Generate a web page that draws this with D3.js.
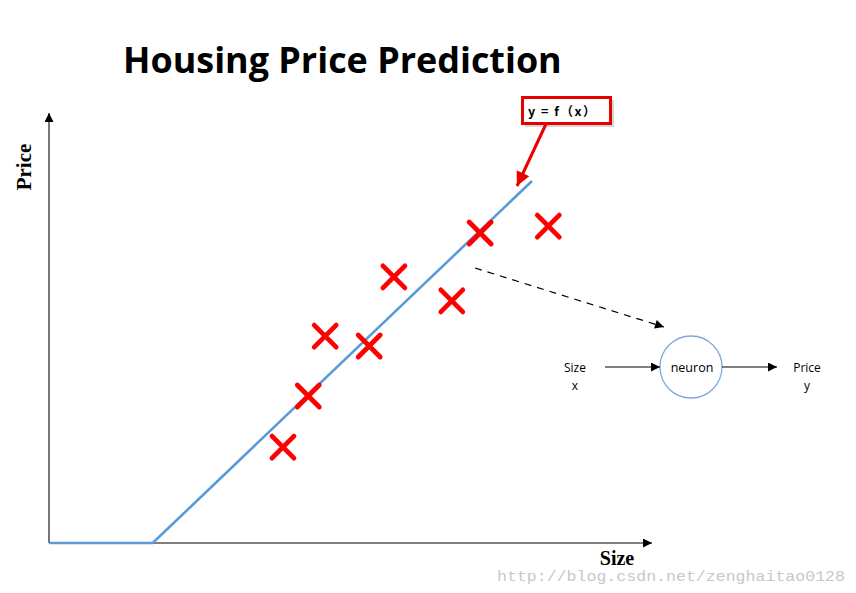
<!DOCTYPE html>
<html><head><meta charset="utf-8">
<script src="https://cdn.jsdelivr.net/npm/d3@7"></script>
<style>body{margin:0;background:#fff}svg{display:block}</style>
</head><body>
<svg id="c" width="856" height="593"></svg>
<script>
const title = "Housing Price Prediction";
const xLabel = "Size";
const yLabel = "Price";
const sizes  = [38.8, 43.0, 45.8, 53.1, 57.2, 66.8, 71.5, 82.8];
const prices = [22.3, 34.2, 48.1, 45.8, 61.9, 56.3, 72.1, 73.7];
const fitX = [0, 17.2, 80.1];
const fitY = [0, 0, 84.2];
const fnLabel = "y = f（x）";
const neuronIn = ["Size", "x"];
const neuronOut = ["Price", "y"];
const watermark = "http://blog.csdn.net/zenghaitao0128";

const svg = d3.select("#c");
const x = d3.scaleLinear().domain([0,100]).range([49,652]);
const y = d3.scaleLinear().domain([0,100]).range([543,113]);

const defs = svg.append("defs");
function marker(id, color, w, h){
  defs.append("marker").attr("id",id).attr("viewBox","0 0 10 10").attr("refX",10).attr("refY",5)
    .attr("markerWidth",w).attr("markerHeight",h).attr("markerUnits","userSpaceOnUse").attr("orient","auto")
    .append("path").attr("d","M0,0L10,5L0,10z").attr("fill",color);
}
marker("ab","#000",14,9);
marker("ar","#e00",16,14);
marker("ad","#000",13,9);

// title
const t = svg.append("text").attr("x",123).attr("y",73).text(title)
  .attr("font-family","'Open Sans', Lato, sans-serif").attr("font-weight","bold").attr("font-size",38).attr("fill","#000");
const tw = t.node().getComputedTextLength();
t.attr("font-size", 38*439/tw);

// axes
svg.append("line").attr("x1",x(0)).attr("y1",y(0)).attr("x2",x(100)).attr("y2",y(0))
  .attr("stroke","#555").attr("stroke-width",1.6).attr("marker-end","url(#ab)");
svg.append("line").attr("x1",x(0)).attr("y1",y(0)).attr("x2",x(0)).attr("y2",y(100))
  .attr("stroke","#555").attr("stroke-width",1.6).attr("marker-end","url(#ab)");

svg.append("text").attr("x",617).attr("y",565).attr("text-anchor","middle").text(xLabel)
  .attr("font-family","'Liberation Serif', serif").attr("font-weight","bold").attr("font-size",20);
svg.append("text").attr("transform","translate(31,167) rotate(-90)").attr("text-anchor","middle").text(yLabel)
  .attr("font-family","'Liberation Serif', serif").attr("font-weight","bold").attr("font-size",21);

// fit line
svg.append("path").datum(fitX.map((d,i)=>[d,fitY[i]]))
  .attr("d", d3.line().x(d=>x(d[0])).y(d=>y(d[1])))
  .attr("fill","none").attr("stroke","#5b9bd5").attr("stroke-width",2.6);

// crosses
const s = 11;
const g = svg.append("g").selectAll("g").data(sizes.map((d,i)=>[d,prices[i]])).join("g")
  .attr("transform", d=>`translate(${x(d[0])},${y(d[1])})`);
g.append("path").attr("d",`M${-s},${-s}L${s},${s}M${-s},${s}L${s},${-s}`)
  .attr("stroke","#ff0000").attr("stroke-width",4.8).attr("stroke-linecap","round").attr("fill","none");

// label box
svg.append("rect").attr("x",525).attr("y",100).attr("width",89).attr("height",27).attr("fill","#bbb").attr("opacity",0.6);
svg.append("rect").attr("x",522.5).attr("y",97.5).attr("width",88).attr("height",26).attr("fill","#fff")
  .attr("stroke","#e60000").attr("stroke-width",3);
svg.append("text").attr("x",528).attr("y",115.5).text(fnLabel)
  .attr("font-family","'Noto Sans CJK SC', sans-serif").attr("font-weight","bold").attr("font-size",12.5)
  .attr("letter-spacing",1.5);
svg.append("line").attr("x1",546).attr("y1",124).attr("x2",517).attr("y2",186)
  .attr("stroke","#e00").attr("stroke-width",3).attr("marker-end","url(#ar)");

// dashed arrow
svg.append("line").attr("x1",475).attr("y1",268).attr("x2",664).attr("y2",327)
  .attr("stroke","#000").attr("stroke-width",1.2).attr("stroke-dasharray","7,6").attr("marker-end","url(#ad)");

// neuron
svg.append("circle").attr("cx",691).attr("cy",367).attr("r",31).attr("fill","#fff").attr("stroke","#7fa9db").attr("stroke-width",1.3);
svg.append("text").attr("x",692).attr("y",372).attr("text-anchor","middle").text("neuron")
  .attr("font-family","'Open Sans', sans-serif").attr("font-size",12.5);
svg.append("line").attr("x1",605).attr("y1",367).attr("x2",660).attr("y2",367)
  .attr("stroke","#000").attr("stroke-width",1.1).attr("marker-end","url(#ab)");
svg.append("line").attr("x1",722).attr("y1",367).attr("x2",777).attr("y2",367)
  .attr("stroke","#000").attr("stroke-width",1.1).attr("marker-end","url(#ab)");
neuronIn.forEach((d,i)=>svg.append("text").attr("x",575).attr("y",372+i*18).attr("text-anchor","middle").text(d)
  .attr("font-family","'Open Sans', sans-serif").attr("font-size",12));
neuronOut.forEach((d,i)=>svg.append("text").attr("x",807).attr("y",372+i*18).attr("text-anchor","middle").text(d)
  .attr("font-family","'Open Sans', sans-serif").attr("font-size",12));

// watermark
svg.append("text").attr("x",497).attr("y",581).text(watermark)
  .attr("font-family","'Liberation Mono', monospace").attr("font-size",15.5).attr("fill","#c8c8c8")
  .attr("textLength",348).attr("lengthAdjust","spacingAndGlyphs");
</script>
</body></html>
